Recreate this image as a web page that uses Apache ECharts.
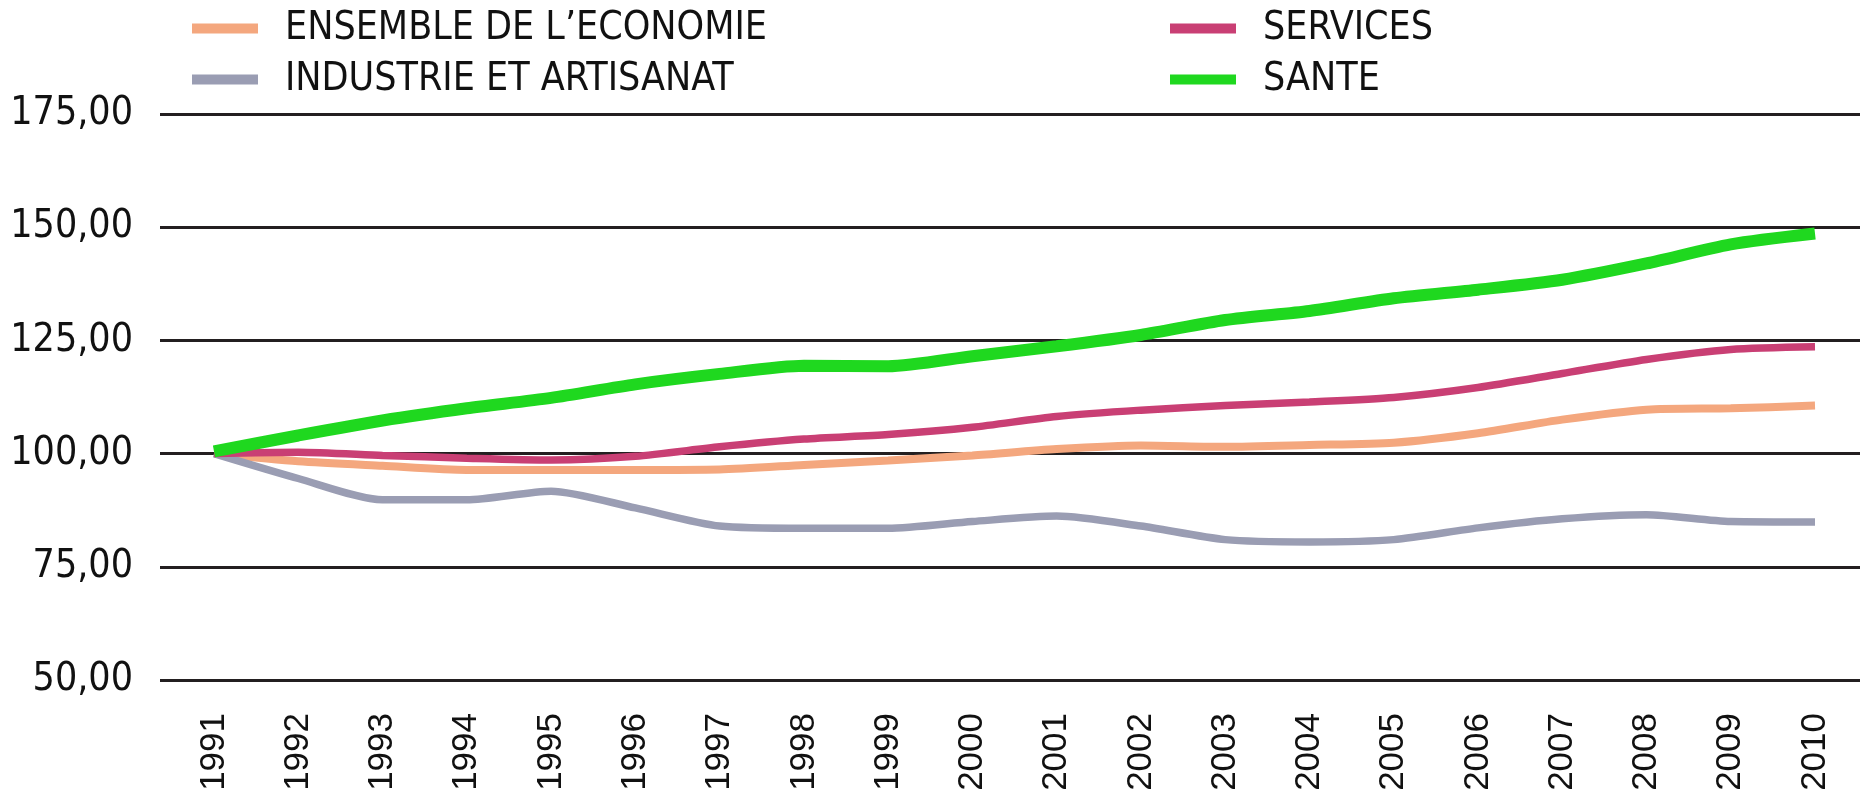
<!DOCTYPE html>
<html>
<head>
<meta charset="utf-8">
<script src="https://cdn.jsdelivr.net/npm/echarts@6/dist/echarts.min.js"></script>
<style>
  html, body { margin: 0; padding: 0; background: #fff; }
  #chart { width: 1864px; height: 806px; }
</style>
</head>
<body>
<div id="chart"></div>
<script>
// annees (axe x)
var years = [1991, 1992, 1993, 1994, 1995, 1996, 1997, 1998, 1999, 2000,
             2001, 2002, 2003, 2004, 2005, 2006, 2007, 2008, 2009, 2010];

// indices base 100 en 1991
var ensemble  = [100, 98.3, 97.3, 96.4, 96.4, 96.4, 96.5, 97.5, 98.5, 99.6,
                 101, 101.8, 101.5, 101.9, 102.4, 104.5, 107.5, 109.7, 110, 110.6];
var industrie = [100, 94.5, 89.8, 89.8, 91.7, 88, 84, 83.5, 83.5, 85,
                 86.2, 84, 81, 80.5, 81, 83.6, 85.6, 86.5, 85, 84.9];
var services  = [100, 100.3, 99.6, 99, 98.6, 99.4, 101.5, 103.2, 104.2, 105.8,
                 108.2, 109.6, 110.6, 111.4, 112.4, 114.6, 117.7, 120.8, 123, 123.6];
var sante     = [100.5, 104, 107.3, 110, 112.3, 115.3, 117.6, 119.4, 119.3, 121.5,
                 123.7, 126.2, 129.5, 131.5, 134.3, 136.2, 138.4, 142, 146.2, 148.6];

var names = ['ENSEMBLE DE L\u2019ECONOMIE', 'INDUSTRIE ET ARTISANAT', 'SERVICES', 'SANTE'];
var colors = ['#f4a77e', '#9a9db3', '#c93f74', '#1fd81f'];

var condFont = "'DejaVu Sans Condensed', 'DejaVu Sans'";

function pairs(values){
    var out = [];
    for(var i = 0; i < years.length; i++){
        out.push([years[i], values[i]]);
    }
    return out;
}

function mkSeries(idx, values, width){
    return {
        name: names[idx],
        type: 'line',
        data: pairs(values),
        smooth: 0.25,
        symbol: 'none',
        lineStyle: { color: colors[idx], width: width },
        itemStyle: { color: colors[idx] }
    };
}

var legendText = { fontFamily: condFont, fontSize: 39, color: '#111', lineHeight: 41, padding: [0, 0, 0, 22] };

var chart = echarts.init(document.getElementById('chart'));
var option = {
    animation: false,
    legend: [
        {
            orient: 'vertical', left: 187, top: 3, itemGap: 10,
            icon: 'rect', itemWidth: 66, itemHeight: 10,
            data: [names[0], names[1]],
            textStyle: legendText
        },
        {
            orient: 'vertical', left: 1165, top: 3, itemGap: 10,
            icon: 'rect', itemWidth: 66, itemHeight: 10,
            data: [names[2], names[3]],
            textStyle: legendText
        }
    ],
    grid: { left: 160, right: 4, top: 114, bottom: 126, containLabel: false },
    xAxis: {
        type: 'value',
        min: 1990.359,
        max: 2010.534,
        axisLine: { show: false },
        axisTick: { show: false },
        splitLine: { show: false },
        axisLabel: {
            customValues: years,
            rotate: 90,
            margin: 33,
            fontFamily: 'Liberation Sans',
            fontSize: 35,
            color: '#111',
            formatter: function(v){ return String(v); }
        }
    },
    yAxis: {
        type: 'value',
        min: 50, max: 175, interval: 25,
        axisLine: { show: false },
        axisTick: { show: false },
        axisLabel: {
            margin: 27,
            fontFamily: condFont,
            fontSize: 39,
            color: '#111',
            formatter: function(v){ return v.toFixed(2).replace('.', ','); }
        },
        splitLine: { lineStyle: { color: '#231f20', width: 3 } }
    },
    series: [
        mkSeries(0, ensemble, 8),
        mkSeries(1, industrie, 7.5),
        mkSeries(2, services, 7.5),
        mkSeries(3, sante, 12)
    ]
};
chart.setOption(option);
</script>
</body>
</html>
